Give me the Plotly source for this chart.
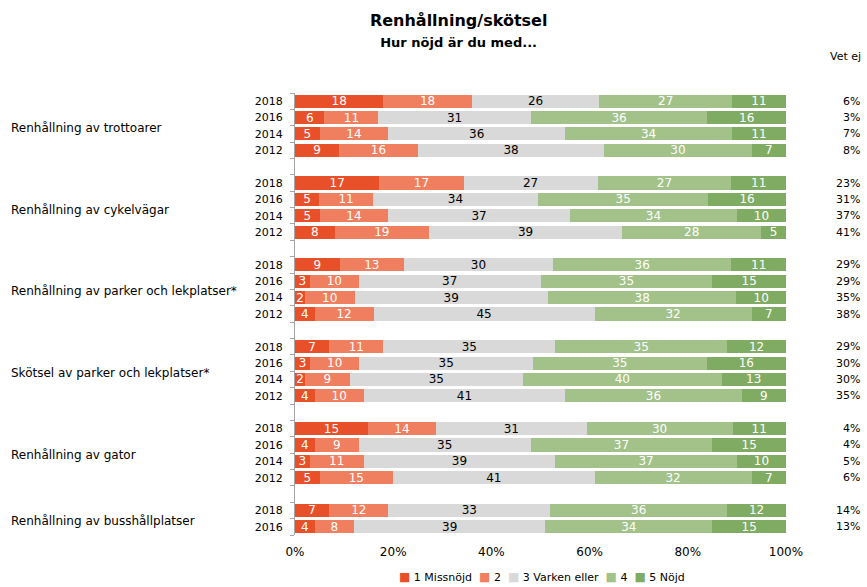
import plotly.graph_objects as go

groups = [
    "Renhållning av trottoarer",
    "Renhållning av cykelvägar",
    "Renhållning av parker och lekplatser*",
    "Skötsel av parker och lekplatser*",
    "Renhållning av gator",
    "Renhållning av busshållplatser",
]
years = [
    ["2018", "2016", "2014", "2012"],
    ["2018", "2016", "2014", "2012"],
    ["2018", "2016", "2014", "2012"],
    ["2018", "2016", "2014", "2012"],
    ["2018", "2016", "2014", "2012"],
    ["2018", "2016"],
]
v1 = [[18, 6, 5, 9], [17, 5, 5, 8], [9, 3, 2, 4], [7, 3, 2, 4], [15, 4, 3, 5], [7, 4]]
v2 = [[18, 11, 14, 16], [17, 11, 14, 19], [13, 10, 10, 12], [11, 10, 9, 10], [14, 9, 11, 15], [12, 8]]
v3 = [[26, 31, 36, 38], [27, 34, 37, 39], [30, 37, 39, 45], [35, 35, 35, 41], [31, 35, 39, 41], [33, 39]]
v4 = [[27, 36, 34, 30], [27, 35, 34, 28], [36, 35, 38, 32], [35, 35, 40, 36], [30, 37, 37, 32], [36, 34]]
v5 = [[11, 16, 11, 7], [11, 16, 10, 5], [11, 15, 10, 7], [12, 16, 13, 9], [11, 15, 10, 7], [12, 15]]
vet_ej = [[6, 3, 7, 8], [23, 31, 37, 41], [29, 29, 35, 38], [29, 30, 30, 35], [4, 4, 5, 6], [14, 13]]

series_names = ["1 Missnöjd", "2", "3 Varken eller", "4", "5 Nöjd"]
series_vals = [v1, v2, v3, v4, v5]
colors = ["#E8502A", "#F07F60", "#D9D9D9", "#A2C28A", "#7FAB62"]
text_colors = ["white", "white", "black", "white", "white"]

FONT = "DejaVu Sans"

W, H = 867, 587
ML, MR, MT, MB = 295, 81, 93, 52
PW = W - ML - MR
PH = H - MT - MB

# row positions (one empty row between groups)
row_y, row_year, group_y = [], [], []
pos = 0
for gi, ys in enumerate(years):
    if gi > 0:
        pos += 1
    start = pos
    for yr in ys:
        row_y.append(pos)
        row_year.append(yr)
        pos += 1
    group_y.append((start + pos - 1) / 2)
last_row = row_y[-1]

fig = go.Figure()
for name, vals, col, tc in zip(series_names, series_vals, colors, text_colors):
    flat = [v for g in vals for v in g]
    fig.add_trace(go.Bar(
        name=name, x=flat, y=row_y, orientation="h",
        marker=dict(color=col, line=dict(width=0)),
        text=[str(v) for v in flat], textposition="inside",
        insidetextanchor="middle", textangle=0,
        textfont=dict(color=tc, size=12, family=FONT),
        hoverinfo="x+y+name", showlegend=False,
    ))

# dummy trace for the boundary-tick axis
fig.add_trace(go.Scatter(x=[None], y=[None], yaxis="y2", showlegend=False, hoverinfo="skip"))

annotations = []
for gname, gy in zip(groups, group_y):
    annotations.append(dict(
        x=(9 - ML) / PW, xref="paper", xanchor="left", y=gy, yref="y", yshift=-2,
        text=gname, showarrow=False, font=dict(size=12, family=FONT, color="black"),
    ))
flat_vet = [v for g in vet_ej for v in g]
for yv, v in zip(row_y, flat_vet):
    annotations.append(dict(
        x=(862 - ML) / PW, xref="paper", xanchor="right", y=yv, yref="y",
        text=f"{v}%", showarrow=False, font=dict(size=11, family=FONT, color="black"),
    ))
annotations.append(dict(
    x=(863 - ML) / PW, xref="paper", xanchor="right", y=(H - MB - 56) / PH, yref="paper",
    yanchor="middle", text="Vet ej", showarrow=False, font=dict(size=11, family=FONT, color="black"),
))
# legend drawn as a single line of text
legend_parts = []
for name, col in zip(series_names, colors):
    legend_parts.append(
        f"<span style='color:{col};font-size:12px'>■</span> {name}"
    )
annotations.append(dict(
    x=(542 - ML) / PW, xref="paper", xanchor="center", y=(H - MB - 577) / PH, yref="paper",
    yanchor="middle", text="  ".join(legend_parts), showarrow=False,
    font=dict(size=11, family=FONT, color="black"),
))

fig.update_layout(
    width=W, height=H,
    margin=dict(l=ML, r=MR, t=MT, b=MB, autoexpand=False),
    paper_bgcolor="white", plot_bgcolor="white",
    barmode="stack", barnorm="percent", bargap=0.2,
    uniformtext=dict(minsize=12, mode="show"),
    font=dict(family=FONT, size=11, color="black"),
    title=dict(
        text="<b>Renhållning/skötsel</b><br><span style='font-size:13px'><b>Hur nöjd är du med...</b></span>",
        x=0.529, xanchor="center", y=0.956, yanchor="top",
        font=dict(size=16, family=FONT, color="black"),
    ),
    xaxis=dict(
        range=[0, 100], tickvals=[0, 20, 40, 60, 80, 100],
        ticktext=["0%", "20%", "40%", "60%", "80%", "100%"],
        showgrid=False, zeroline=False, showline=False, ticks="",
        ticklabelstandoff=8,
        tickfont=dict(size=12, family=FONT), fixedrange=True,
    ),
    yaxis=dict(
        range=[last_row + 0.5, -0.5], tickvals=row_y, ticktext=row_year,
        showgrid=False, zeroline=False, showline=True, linecolor="#A6A6A6",
        ticks="", ticklabelstandoff=9, tickfont=dict(size=11, family=FONT),
    ),
    yaxis2=dict(
        overlaying="y", side="left", range=[last_row + 0.5, -0.5],
        tickvals=[i - 0.5 for i in range(last_row + 2)],
        showticklabels=False, ticks="outside", ticklen=4, tickcolor="#A6A6A6",
        showgrid=False, zeroline=False, showline=False,
    ),
    showlegend=False,
    annotations=annotations,
)

fig.write_html(
    "out.html",
    config={"displayModeBar": False},
    post_script="document.body.style.margin='0';document.body.style.overflow='hidden';",
)
